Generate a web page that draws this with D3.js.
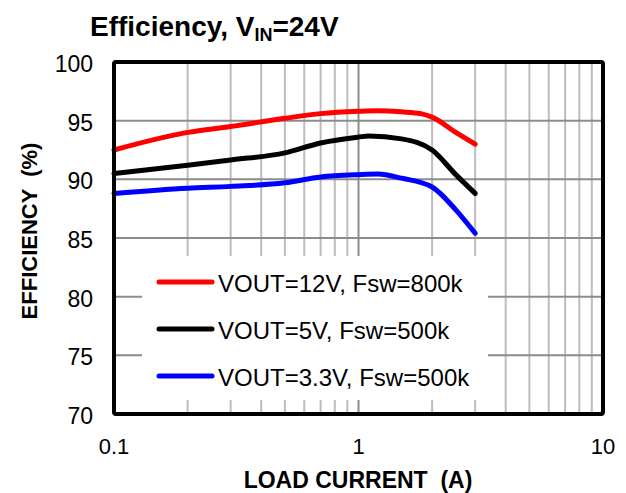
<!DOCTYPE html>
<html>
<head>
<meta charset="utf-8">
<script src="https://cdn.jsdelivr.net/npm/d3@7"></script>
<style>
  body { margin: 0; background: #fff; }
  svg { font-family: "Liberation Sans", Arial, sans-serif; }
</style>
</head>
<body>
<svg id="chart" width="626" height="493"></svg>
<script>
// load current (A) vs efficiency (%)
const red12v = [[0.1, 92.5], [0.2, 94.0], [0.3, 94.5], [0.5, 95.2], [0.7, 95.6], [1, 95.8], [1.2, 95.85], [1.5, 95.75], [1.8, 95.6], [2, 95.3], [2.5, 94.0], [3, 93.0]];
const black5v = [[0.1, 90.5], [0.2, 91.2], [0.3, 91.65], [0.5, 92.25], [0.7, 93.1], [1, 93.6], [1.1, 93.7], [1.5, 93.45], [2, 92.5], [2.5, 90.4], [3, 88.8]];
const blue33v = [[0.1, 88.8], [0.2, 89.25], [0.3, 89.4], [0.5, 89.7], [0.7, 90.2], [1, 90.4], [1.2, 90.45], [1.5, 90.1], [2, 89.35], [2.5, 87.4], [3, 85.4]];

const seriesNames = ['VOUT=12V, Fsw=800k', 'VOUT=5V, Fsw=500k', 'VOUT=3.3V, Fsw=500k'];
const seriesColors = ['#ff0000', '#000000', '#0000ff'];
const yTicks = [70, 75, 80, 85, 90, 95, 100];
const xTicks = [0.1, 1, 10];

const svg = d3.select('#chart');
const margin = { top: 62, right: 23, bottom: 79, left: 114 };
const width = 626 - margin.left - margin.right;
const height = 493 - margin.top - margin.bottom;

const x = d3.scaleLog().domain([0.1, 10]).range([0, width]);
const y = d3.scaleLinear().domain([70, 100]).range([height, 0]);

const g = svg.append('g')
  .attr('transform', 'translate(' + margin.left + ',' + margin.top + ')');

// minor vertical grid
let minor = [];
[0.1, 1].forEach(dec => {
  for (let k = 2; k <= 9; k++) minor.push(dec * k);
});
g.selectAll('.vgrid')
  .data(minor)
  .enter().append('line')
  .attr('x1', d => x(d)).attr('x2', d => x(d))
  .attr('y1', 0).attr('y2', height)
  .attr('stroke', '#bdbdbd').attr('stroke-width', 2);

g.append('line')
  .attr('x1', x(1)).attr('x2', x(1))
  .attr('y1', 0).attr('y2', height)
  .attr('stroke', '#8c8c8c').attr('stroke-width', 2);

g.selectAll('.hgrid')
  .data(yTicks.slice(1, -1))
  .enter().append('line')
  .attr('x1', 0).attr('x2', width)
  .attr('y1', d => y(d)).attr('y2', d => y(d))
  .attr('stroke', '#8c8c8c').attr('stroke-width', 2);

// series lines
const line = d3.line()
  .x(d => x(d[0]))
  .y(d => y(d[1]))
  .curve(d3.curveMonotoneX);

[red12v, black5v, blue33v].forEach((data, i) => {
  g.append('path')
    .datum(data)
    .attr('d', line)
    .attr('fill', 'none')
    .attr('stroke', seriesColors[i])
    .attr('stroke-width', 5)
    .attr('stroke-linecap', 'round')
    .attr('stroke-linejoin', 'round');
});

// legend box hides the grid
const legend = g.append('g').attr('transform', 'translate(28,194)');
legend.append('rect')
  .attr('width', 346).attr('height', 144)
  .attr('fill', '#fff');

seriesNames.forEach((name, i) => {
  const ly = 26 + i * 47;
  legend.append('line')
    .attr('x1', 17).attr('x2', 70)
    .attr('y1', ly).attr('y2', ly)
    .attr('stroke', seriesColors[i])
    .attr('stroke-width', 5)
    .attr('stroke-linecap', 'round');
  legend.append('text')
    .attr('x', 76).attr('y', ly + 10)
    .style('font-size', '24px')
    .text(name);
});

// frame
g.append('rect')
  .attr('width', width).attr('height', height)
  .attr('fill', 'none')
  .attr('stroke', '#000').attr('stroke-width', 4)
  .attr('rx', 2);

// tick labels
g.selectAll('.ylab')
  .data(yTicks)
  .enter().append('text')
  .attr('x', -21).attr('y', d => y(d) + 10)
  .attr('text-anchor', 'end')
  .style('font-size', '23px')
  .text(d => d);

g.selectAll('.xlab')
  .data(xTicks)
  .enter().append('text')
  .attr('x', d => x(d)).attr('y', height + 40)
  .attr('text-anchor', 'middle')
  .style('font-size', '22px')
  .text(d => d);

// titles
svg.append('text')
  .attr('x', 358).attr('y', 488)
  .attr('text-anchor', 'middle')
  .style('font-size', '23px').style('font-weight', 'bold')
  .attr('xml:space', 'preserve')
  .text('LOAD CURRENT  (A)');

svg.append('text')
  .attr('transform', 'translate(37,231) rotate(-90)')
  .attr('text-anchor', 'middle')
  .style('font-size', '22px').style('font-weight', 'bold')
  .attr('xml:space', 'preserve')
  .text('EFFICIENCY  (%)');

const title = svg.append('text')
  .attr('x', 90).attr('y', 36)
  .style('font-size', '28px').style('font-weight', 'bold');
title.append('tspan').text('Efficiency, V');
title.append('tspan').attr('dy', 5).style('font-size', '18px').text('IN');
title.append('tspan').attr('dy', -5).text('=24V');
</script>
</body>
</html>
